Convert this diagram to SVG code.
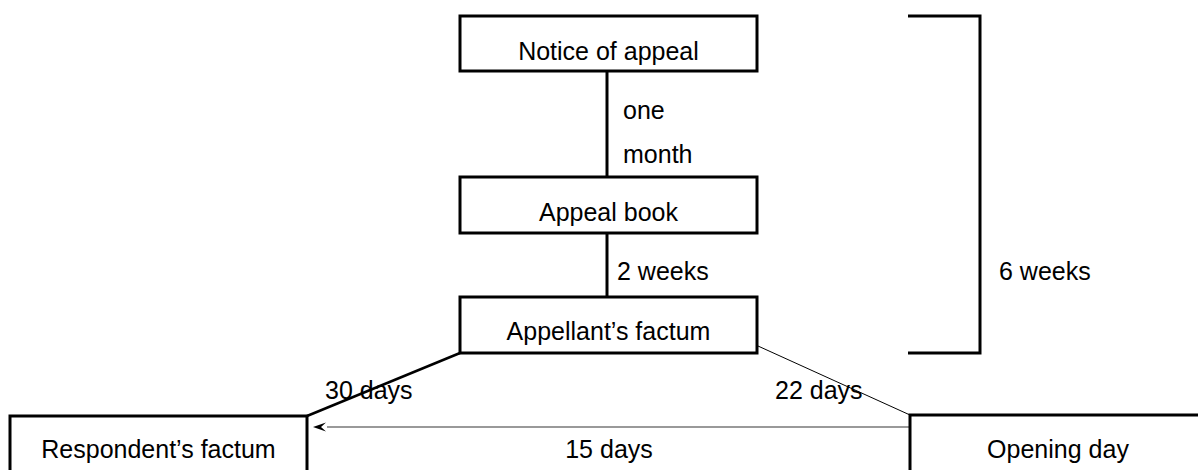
<svg xmlns="http://www.w3.org/2000/svg" width="1198" height="470" viewBox="0 0 1198 470">
<defs>
<style>
.box{fill:#fff;stroke:#000;stroke-width:3}
.t{font-family:"Liberation Sans",Arial,sans-serif;font-size:25px;fill:#000}
.c{text-anchor:middle}
.thick{stroke:#000;stroke-width:3;fill:none}
</style>
<marker id="ah" markerWidth="14" markerHeight="10" refX="0" refY="5" orient="auto" markerUnits="userSpaceOnUse">
<path d="M0,5 L13,0.5 L8,5 L13,9.5 Z" fill="#000"/>
</marker>
</defs>
<g id="connectors">
<line class="thick" x1="607" y1="71" x2="607" y2="177"/>
<line class="thick" x1="607" y1="233" x2="607" y2="297"/>
<line x1="460" y1="353" x2="307" y2="416" stroke="#000" stroke-width="2.5"/>
<line x1="758" y1="346" x2="910" y2="415" stroke="#000" stroke-width="1"/>
<line x1="910" y1="427" x2="327" y2="427" stroke="#999" stroke-width="2"/>
<path d="M313,427 L326,422.5 L321,427 L326,431.5 Z" fill="#000"/>
<polyline class="thick" points="908,16 980,16 980,353 908,353"/>
<text class="t" x="623" y="119">one</text>
<text class="t" x="623" y="163">month</text>
<text class="t" x="617" y="280">2 weeks</text>
<text class="t" x="999" y="280">6 weeks</text>
<text class="t" x="325" y="399">30 days</text>
<text class="t" x="775" y="399">22 days</text>
<text class="t c" x="609" y="458">15 days</text>
</g>
<g id="notice">
<rect class="box" x="460" y="16" width="297" height="55"/>
<text class="t c" x="608.5" y="60">Notice of appeal</text>
</g>
<g id="appealbook">
<rect class="box" x="460" y="177" width="297" height="56"/>
<text class="t c" x="608.5" y="221">Appeal book</text>
</g>
<g id="appellant">
<rect class="box" x="460" y="297" width="297" height="56"/>
<text class="t c" x="608.5" y="340">Appellant’s factum</text>
</g>
<g id="respondent">
<rect class="box" x="10" y="416" width="297" height="70"/>
<text class="t c" x="158.5" y="458">Respondent’s factum</text>
</g>
<g id="opening">
<rect class="box" x="910" y="415" width="297" height="70"/>
<text class="t c" x="1058" y="458">Opening day</text>
</g>
</svg>
